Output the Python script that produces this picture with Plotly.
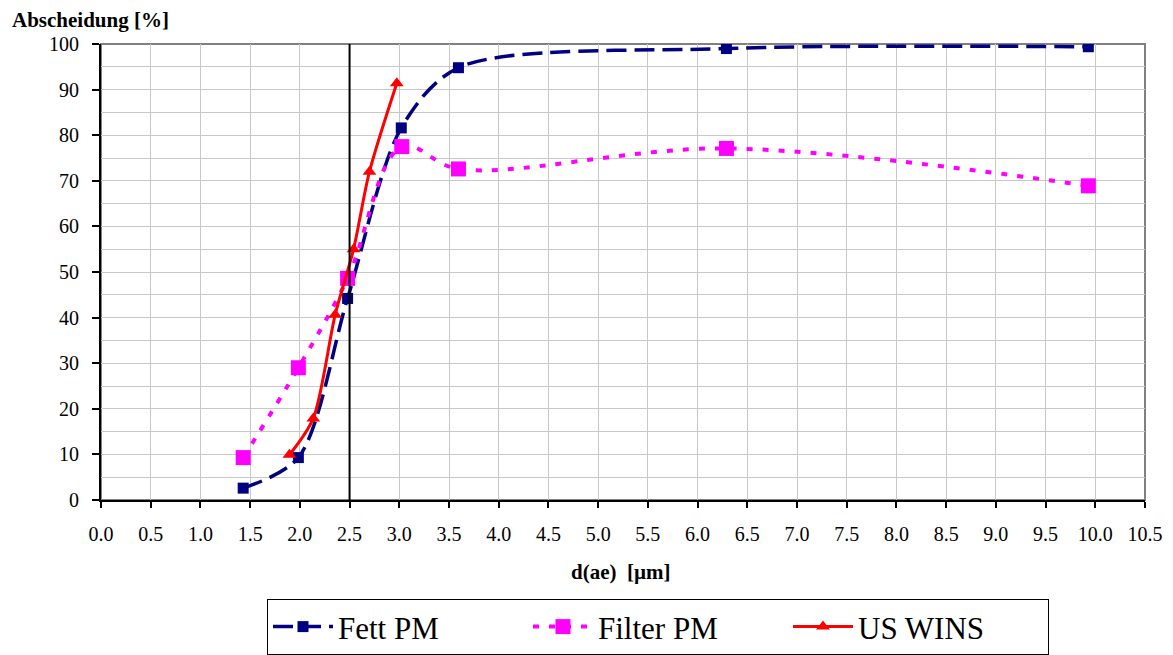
import plotly.graph_objects as go

# ---- data ----
fett_x = [1.43, 1.985, 2.48, 3.02, 3.595, 6.29, 9.93]
fett_y = [2.6, 9.3, 44.2, 81.6, 94.8, 99.0, 99.4]

filter_x = [1.43, 1.985, 2.48, 3.025, 3.595, 6.29, 9.93]
filter_y = [9.3, 29.0, 48.6, 77.5, 72.6, 77.1, 68.9]

wins_x = [1.895, 2.135, 2.355, 2.54, 2.70, 2.975]
wins_y = [9.9, 17.9, 40.6, 55.0, 72.0, 91.4]

cut_x = 2.5  # reference line d(ae) = 2.5 µm

x_ticks = [i * 0.5 for i in range(22)]
y_ticks = list(range(0, 101, 10))

FONT = "Times New Roman, Liberation Serif, DejaVu Serif, serif"

fig = go.Figure()
fig.add_trace(go.Scatter(
    x=fett_x, y=fett_y, name="Fett PM", mode="lines+markers",
    line=dict(color="#000080", width=3.5, dash="20px,8px", shape="spline", smoothing=0.85),
    marker=dict(symbol="square", size=11, color="#000080"),
))
fig.add_trace(go.Scatter(
    x=filter_x, y=filter_y, name="Filter PM", mode="lines+markers",
    line=dict(color="#FF00FF", width=4, dash="6px,10px", shape="spline", smoothing=1.0),
    marker=dict(symbol="square", size=15, color="#FF00FF"),
))
fig.add_trace(go.Scatter(
    x=wins_x, y=wins_y, name="US WINS", mode="lines+markers",
    line=dict(color="#FF0000", width=3, shape="spline", smoothing=0.8),
    marker=dict(symbol="triangle-up", size=12, color="#FF0000"),
))

# plot border (gray top/right)
fig.add_shape(type="rect", xref="paper", yref="paper", x0=0, y0=0, x1=1, y1=1,
              line=dict(color="#808080", width=2), layer="below")
# vertical reference line
fig.add_shape(type="line", xref="x", yref="y", x0=cut_x, x1=cut_x, y0=0, y1=100,
              line=dict(color="black", width=2))

fig.add_annotation(text="<b>Abscheidung [%]</b>", xref="paper", yref="paper",
                   x=-0.0868, y=1.0526, xanchor="left", yanchor="middle",
                   showarrow=False, font=dict(family=FONT, size=21, color="black"))
fig.add_annotation(text="<b>d(ae)\u00a0 [µm]</b>", xref="paper", yref="paper",
                   x=0.498, y=-0.158, xanchor="center", yanchor="middle",
                   showarrow=False, font=dict(family=FONT, size=21, color="black"))

fig.update_layout(
    width=1165, height=647,
    margin=dict(l=93, r=28, t=36, b=155, autoexpand=False),
    paper_bgcolor="white", plot_bgcolor="white",
    font=dict(family=FONT, size=20, color="black"),
    showlegend=True,
    legend=dict(
        orientation="h", x=0.159, y=-0.217, xanchor="left", yanchor="top",
        bordercolor="black", borderwidth=1, bgcolor="white",
        font=dict(family=FONT, size=31, color="black"),
        itemwidth=60, entrywidth=185, entrywidthmode="pixels",
    ),
    xaxis=dict(
        range=[0, 10.5], tickvals=x_ticks, ticktext=[f"{v:.1f}" for v in x_ticks],
        showgrid=True, gridcolor="#c8c8c8", gridwidth=1,
        showline=True, linecolor="black", linewidth=2,
        ticks="outside", ticklen=6, tickcolor="black", tickwidth=1.5,
        ticklabelstandoff=9, zeroline=False,
        tickfont=dict(family=FONT, size=20),
    ),
    yaxis=dict(
        range=[0, 100], tickvals=y_ticks,
        showgrid=True, gridcolor="#c8c8c8", gridwidth=1,
        minor=dict(dtick=5, showgrid=True, gridcolor="#c8c8c8", gridwidth=1),
        showline=True, linecolor="black", linewidth=2,
        ticks="outside", ticklen=7, tickcolor="black", tickwidth=1.5,
        ticklabelstandoff=9, zeroline=False,
        tickfont=dict(family=FONT, size=20),
    ),
)

fig.write_html("out.html")
